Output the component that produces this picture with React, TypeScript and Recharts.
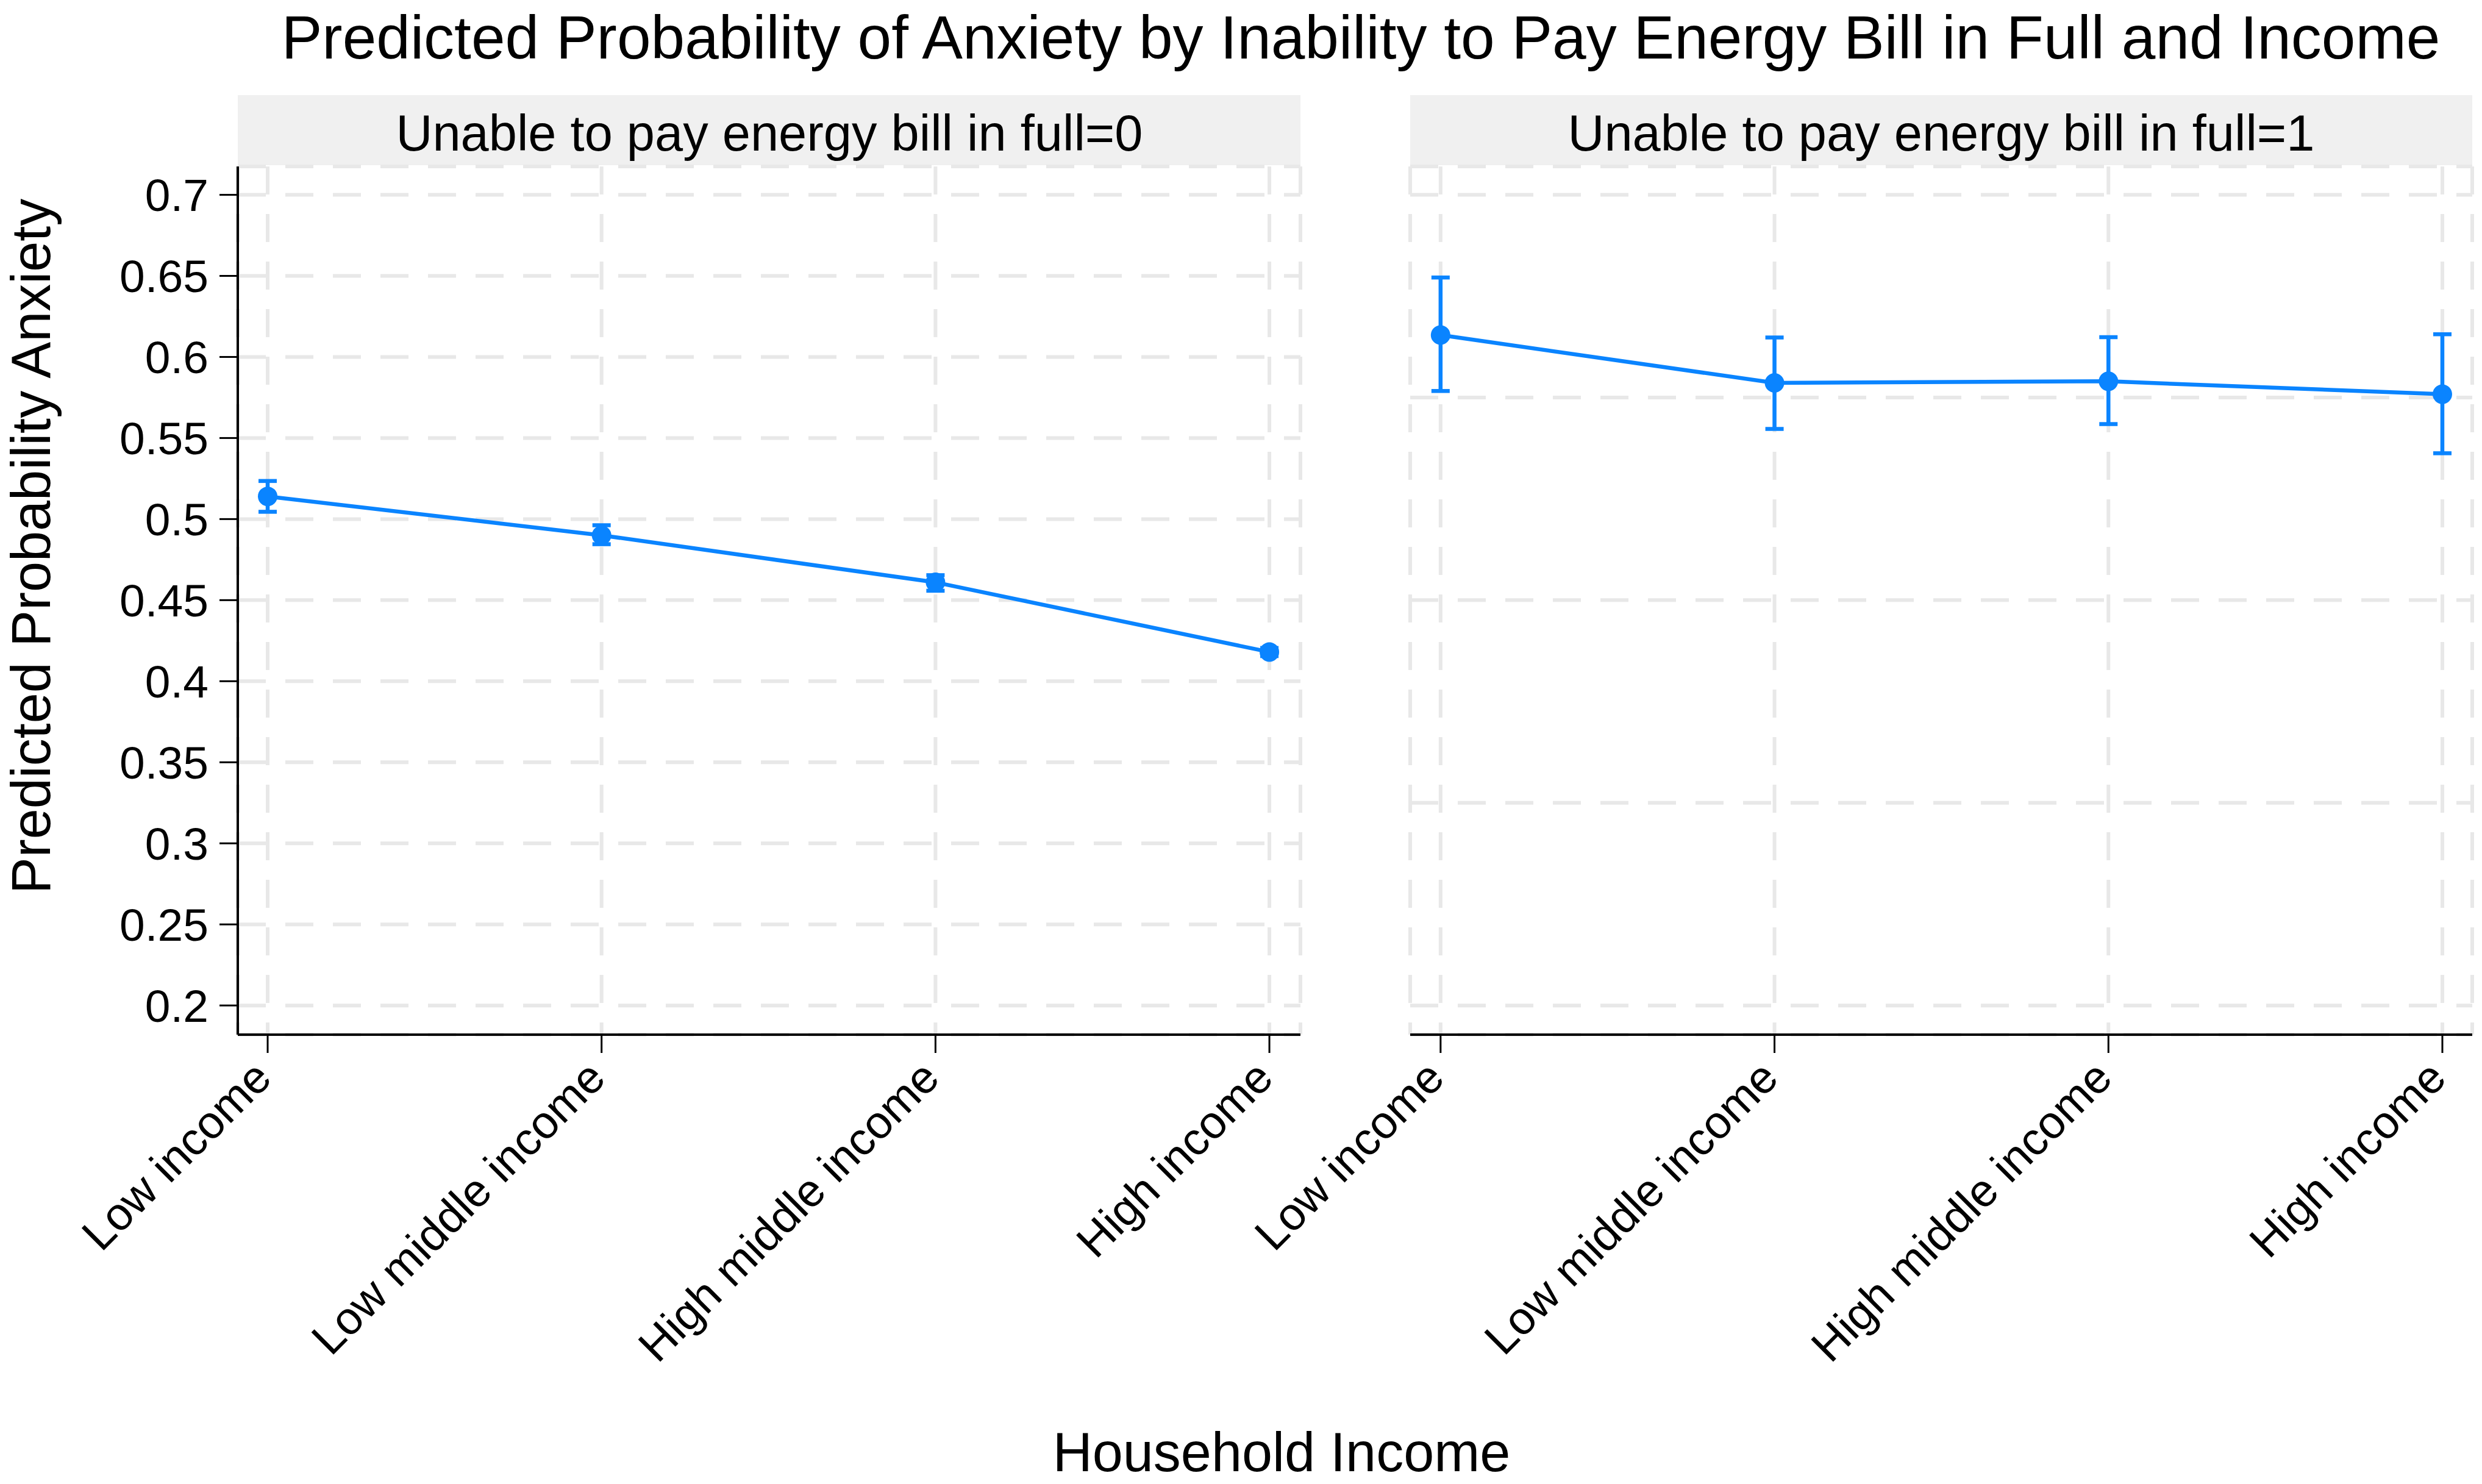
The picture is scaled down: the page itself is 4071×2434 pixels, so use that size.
import React from "react";
import { LineChart, Line, XAxis, YAxis, CartesianGrid, ErrorBar } from "recharts";

const categories = ["Low income", "Low middle income", "High middle income", "High income"];
const xPositions = [1, 2, 3, 4];

// Panel: Unable to pay energy bill in full = 0
const est0 = [0.514, 0.490, 0.461, 0.418];
const lo0 = [0.5045, 0.4845, 0.4558, 0.4155];
const hi0 = [0.5235, 0.4962, 0.4654, 0.4205];

// Panel: Unable to pay energy bill in full = 1
const est1 = [0.6135, 0.584, 0.585, 0.577];
const lo1 = [0.579, 0.5556, 0.5586, 0.5406];
const hi1 = [0.649, 0.612, 0.6122, 0.614];

const yTicksLeft = [0.2, 0.25, 0.3, 0.35, 0.4, 0.45, 0.5, 0.55, 0.6, 0.65, 0.7];
const yTicksRight = [0.2, 0.325, 0.45, 0.575, 0.7];

const BLUE = "#0A84FF";
const FONT = "'Liberation Sans', Arial, Helvetica, sans-serif";
const GRID = "#e8e8e8";

const buildData = (est: number[], lo: number[], hi: number[]) =>
  xPositions.map((x, i) => ({
    x,
    est: est[i],
    err: [est[i] - lo[i], hi[i] - est[i]],
  }));

const data0 = buildData(est0, lo0, hi0);
const data1 = buildData(est1, lo1, hi1);

const Y_DOMAIN: [number, number] = [0.182, 0.7175];

const XTick = (props: any) => {
  const { x, y, payload } = props;
  return (
    <g transform={`translate(${x + 10},${y + 43})`}>
      <text
        textAnchor="end"
        transform="rotate(-45)"
        fontSize={75}
        fill="#000"
        fontFamily={FONT}
      >
        {categories[payload.value - 1]}
      </text>
    </g>
  );
};

const W = 4071;
const CHART_H = 2434;
const PLOT_TOP = 273;
const PLOT_BOTTOM = 1697;
const XAXIS_H = 250;
const BOTTOM_MARGIN = CHART_H - PLOT_BOTTOM - XAXIS_H;

function Panel({ data, marginLeft, marginRight, showY, yTicks, xDomain }: any) {
  return (
    <div style={{ position: "absolute", left: 0, top: 0, width: W, height: CHART_H }}>
      <LineChart
        width={W}
        height={CHART_H}
        data={data}
        margin={{ top: PLOT_TOP, right: marginRight, bottom: BOTTOM_MARGIN, left: marginLeft }}
        style={{ overflow: "visible" }}
      >
        <CartesianGrid
          stroke={GRID}
          strokeWidth={6}
          strokeDasharray="46 32"
        />
        <XAxis
          dataKey="x"
          type="number"
          domain={xDomain}
          ticks={xPositions}
          allowDataOverflow
          height={XAXIS_H}
          tickSize={30}
          tickLine={{ stroke: "#000", strokeWidth: 3 }}
          axisLine={{ stroke: "#000", strokeWidth: 4 }}
          tick={<XTick />}
          interval={0}
        />
        <YAxis
          type="number"
          domain={Y_DOMAIN}
          ticks={yTicks}
          allowDataOverflow
          hide={!showY}
          width={showY ? 390 : 0}
          tickSize={30}
          tickMargin={18}
          tickLine={{ stroke: "#000", strokeWidth: 3 }}
          axisLine={{ stroke: "#000", strokeWidth: 4 }}
          tick={{ fontSize: 75, fill: "#000", fontFamily: FONT }}
          interval={0}
        />
        <Line
          dataKey="est"
          stroke={BLUE}
          strokeWidth={6.5}
          dot={{ r: 16, fill: BLUE, stroke: "none" }}
          activeDot={false}
          isAnimationActive={false}
        >
          <ErrorBar
            dataKey="err"
            direction="y"
            width={15}
            stroke={BLUE}
            strokeWidth={6.5}
            isAnimationActive={false}
          />
        </Line>
      </LineChart>
    </div>
  );
}

export default function App() {
  return (
    <div
      style={{
        position: "absolute",
        left: 0,
        top: 0,
        width: W,
        height: 2434,
        background: "#fff",
        fontFamily: FONT,
        overflow: "hidden",
      }}
    >
      <svg
        width={W}
        height={2434}
        style={{ position: "absolute", left: 0, top: 0, pointerEvents: "none" }}
      >
        <text x={2232} y={96} textAnchor="middle" fontSize={100} fill="#000" fontFamily={FONT}>
          Predicted Probability of Anxiety by Inability to Pay Energy Bill in Full and Income
        </text>
        <rect x={390} y={156} width={1743} height={115} fill="#f0f0f0" />
        <rect x={2313} y={156} width={1742} height={115} fill="#f0f0f0" />
        <text x={1262} y={247} textAnchor="middle" fontSize={83} fill="#000" fontFamily={FONT}>
          Unable to pay energy bill in full=0
        </text>
        <text x={3184} y={247} textAnchor="middle" fontSize={83} fill="#000" fontFamily={FONT}>
          Unable to pay energy bill in full=1
        </text>
        <text
          x={0}
          y={0}
          transform="translate(82,896) rotate(-90)"
          textAnchor="middle"
          fontSize={90}
          fill="#000"
          fontFamily={FONT}
        >
          Predicted Probability Anxiety
        </text>
        <text x={2102} y={2413} textAnchor="middle" fontSize={90} fill="#000" fontFamily={FONT}>
          Household Income
        </text>
      </svg>
      <Panel
        data={data0}
        marginLeft={0}
        marginRight={W - 2133}
        showY={true}
        yTicks={yTicksLeft}
        xDomain={[0.9105, 4.093]}
      />
      <Panel
        data={data1}
        marginLeft={2313}
        marginRight={W - 4055}
        showY={false}
        yTicks={yTicksRight}
        xDomain={[0.909, 4.0895]}
      />
    </div>
  );
}
